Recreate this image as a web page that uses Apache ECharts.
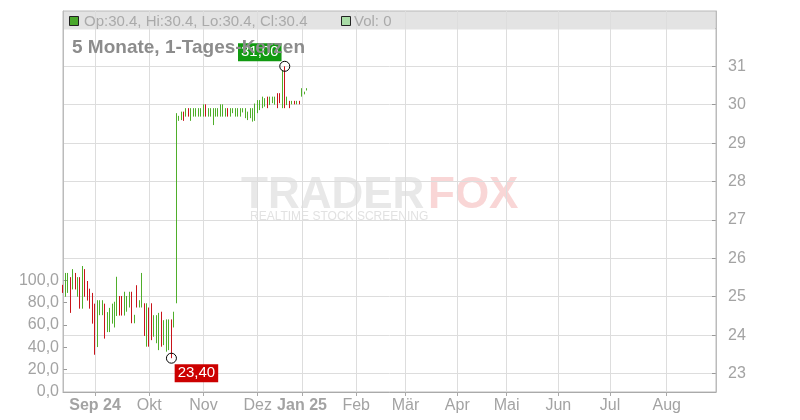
<!DOCTYPE html>
<html><head><meta charset="utf-8">
<script src="https://cdn.jsdelivr.net/npm/echarts@6.0.0/dist/echarts.min.js"></script>
<style>html,body{margin:0;padding:0;background:#fff}#c{width:800px;height:420px}</style>
</head><body><div id="c"></div>
<script>
// ---- month axis (trading-day slots per month) ----
const monthLabels = ['Aug 24','Sep 24','Okt','Nov','Dez','Jan 25','Feb','Mär','Apr','Mai','Jun','Jul','Aug'];
const monthDays   = [13,22,22,22,18,22,20,21,20,21,21,23,21];
const boldLabels  = ['Sep 24','Jan 25'];
const hiddenLabels = ['Aug 24'];

// ---- daily candles (price) ----
const opens  = [25.28,25.05,25.15,25.48,25.22,25.60,25.03,25.49,24.72,25.70,25.38,25.19,25.08,24.80,23.72,24.55,24.55,24.80,24.10,24.10,
                24.32,24.22,24.52,25.00,25.00,24.53,24.63,24.74,25.11,24.33,25.28,24.74,24.74,24.81,23.72,24.70,24.81,23.98,23.81,23.63,
                24.59,23.76,23.59,23.63,24.39,24.22,24.85,29.60,29.62,29.80,29.71,29.89,29.60,29.71,29.71,29.71,29.71,29.71,29.99,29.71,
                29.71,29.49,29.71,29.71,29.71,29.71,29.71,29.89,29.71,29.80,29.71,29.71,29.71,29.82,29.67,29.62,29.67,29.58,29.60,29.80,
                29.88,29.93,29.97,30.19,30.01,30.06,30.02,30.28,30.28,29.93,30.98,30.01,30.08,30.03,30.08,30.03,30.08,30.23,30.29,30.38];
const closes = [25.12,25.58,25.60,24.62,25.70,25.22,25.48,24.72,25.76,25.03,24.93,24.72,24.33,23.52,24.88,24.88,24.89,23.94,24.58,24.69,
                24.80,24.85,25.50,24.53,24.53,25.11,25.00,25.11,24.33,24.51,24.74,24.89,25.60,24.00,24.81,23.72,23.89,24.50,24.50,24.56,
                23.72,24.37,24.39,24.39,23.42,24.59,29.76,29.69,29.80,29.60,29.89,29.71,29.89,29.89,29.89,29.89,29.89,29.99,29.71,29.89,
                29.89,29.89,29.89,29.89,29.99,29.99,29.89,29.71,29.89,29.89,29.89,29.89,29.89,29.89,29.89,29.80,29.89,29.89,30.01,30.10,
                30.10,30.19,30.15,29.93,30.19,30.19,30.19,29.93,30.06,30.88,29.93,30.19,29.93,30.08,30.03,30.08,30.03,30.41,30.32,30.42];
const lows   = [25.10,25.00,25.10,24.58,25.19,25.19,25.00,24.69,24.69,25.00,24.90,24.69,24.30,23.49,23.69,24.52,24.52,23.91,24.08,24.08,
                24.30,24.20,24.50,24.51,24.51,24.51,24.61,24.72,24.31,24.31,24.72,24.72,24.72,23.98,23.70,23.70,23.87,23.96,23.79,23.61,
                23.70,23.74,23.57,23.61,23.40,24.20,24.83,29.58,29.60,29.58,29.69,29.69,29.58,29.69,29.69,29.69,29.69,29.69,29.69,29.69,
                29.69,29.47,29.69,29.69,29.69,29.69,29.69,29.69,29.69,29.78,29.69,29.69,29.69,29.80,29.65,29.60,29.65,29.56,29.58,29.78,
                29.86,29.91,29.95,29.91,29.99,30.04,30.00,29.91,30.04,29.91,29.91,29.99,29.91,30.01,30.01,30.01,30.01,30.21,30.27,30.37];
const highs  = [25.31,25.62,25.62,25.51,25.72,25.62,25.51,25.51,25.80,25.72,25.41,25.21,25.10,24.82,24.91,24.91,24.91,24.82,24.60,24.71,
                24.82,24.87,25.52,25.02,25.02,25.13,25.02,25.13,25.13,24.53,25.30,24.91,25.62,24.83,24.83,24.72,24.83,24.52,24.52,24.58,
                24.61,24.39,24.41,24.41,24.41,24.61,29.78,29.71,29.82,29.82,29.91,29.91,29.91,29.91,29.91,29.91,29.91,30.01,30.01,29.91,
                29.91,29.91,29.91,29.91,30.01,30.01,29.91,29.91,29.91,29.91,29.91,29.91,29.91,29.91,29.91,29.82,29.91,29.91,30.03,30.12,
                30.12,30.21,30.17,30.21,30.21,30.21,30.21,30.30,30.30,30.90,31.00,30.21,30.10,30.10,30.10,30.10,30.10,30.43,30.34,30.43];

// ---- axis tick values ----
const volTicks = [0,20,40,60,80,100];
const headerText = 'Op:30.4, Hi:30.4, Lo:30.4, Cl:30.4';
const volText = 'Vol: 0';
const titleText = '5 Monate, 1-Tages-Kerzen';

// build category axis
const cats = [];
const startLabel = {};
monthLabels.forEach((m, k) => {
  startLabel[cats.length] = m;
  for (let d = 0; d < monthDays[k]; d++) cats.push(m + '#' + (d + 1));
});
const isStart = (i) => startLabel[i] !== undefined && hiddenLabels.indexOf(startLabel[i]) < 0;

const rows = opens.map((o, i) => [o, closes[i], lows[i], highs[i]]);

const FONT = '"Liberation Sans", Arial, sans-serif';
const GREEN = '#4fae2b', RED = '#c8141a', GREY = '#a3a3a3';
const fmt2 = v => v.toFixed(2).replace('.', ',');

const chart = echarts.init(document.getElementById('c'));
chart.setOption({
  animation: false,
  textStyle: { fontFamily: FONT },
  grid: { left: 63, right: 84, top: 11, bottom: 28, show: true, borderColor: '#bbb', borderWidth: 1, backgroundColor: 'transparent' },
  xAxis: {
    type: 'category', data: cats, boundaryGap: false, z: 0,
    axisLine: { lineStyle: { color: '#aaa' } },
    axisTick: { show: true, interval: isStart, length: 4, lineStyle: { color: '#aaa' } },
    axisLabel: {
      interval: isStart, color: GREY, fontSize: 16, fontFamily: FONT, margin: 6,
      formatter: (v, i) => {
        const m = startLabel[i];
        if (m === undefined) return '';
        return boldLabels.indexOf(m) >= 0 ? '{b|' + m + '}' : m;
      },
      rich: { b: { fontWeight: 'bold', fontSize: 16, color: GREY, fontFamily: FONT } }
    },
    splitLine: { show: true, interval: isStart, lineStyle: { color: '#ddd' } }
  },
  yAxis: [
    {
      type: 'value', position: 'right', min: 22.52, max: 32.44, splitNumber: 10, z: -20,
      axisLine: { show: true, lineStyle: { color: '#bbb' } },
      axisTick: { show: true, inside: true, length: 4, lineStyle: { color: '#999' } },
      axisLabel: { color: GREY, fontSize: 16, fontFamily: FONT, margin: 12, showMinLabel: false, showMaxLabel: false,
                   formatter: v => (v >= 32 ? '' : String(v)) },
      splitLine: { show: true, lineStyle: { color: '#ddd' } }
    },
    {
      type: 'value', position: 'left', min: 0, max: 341, z: -20,
      axisLine: { show: true, lineStyle: { color: '#bbb' } },
      axisTick: { show: true, inside: true, length: 4, customValues: volTicks, lineStyle: { color: '#999' } },
      axisLabel: { customValues: volTicks, color: GREY, fontSize: 16, fontFamily: FONT, margin: 4,
                   formatter: v => v.toFixed(1).replace('.', ',') },
      splitLine: { show: false }
    }
  ],
  series: [{
    type: 'candlestick', yAxisIndex: 0, data: rows, barWidth: 1,
    itemStyle: { color: GREEN, color0: RED, borderColor: GREEN, borderColor0: RED, borderWidth: 1 },
    emphasis: { disabled: true },
    markPoint: {
      symbol: 'circle', symbolSize: 10, z: 5,
      itemStyle: { color: 'rgba(255,255,255,0)', borderColor: '#000', borderWidth: 1 },
      data: [
        { type: 'max', valueDim: 'highest',
          label: { show: true, position: 'inside', offset: [-25, -14], formatter: p => fmt2(p.value),
                   color: '#fff', backgroundColor: '#119a11', padding: [2, 3, 1, 3], fontSize: 15, fontFamily: FONT } },
        { type: 'min', valueDim: 'lowest',
          label: { show: true, position: 'inside', offset: [25, 15], formatter: p => fmt2(p.value),
                   color: '#fff', backgroundColor: '#cc0000', padding: [2, 3, 1, 3], fontSize: 15, fontFamily: FONT } }
      ]
    }
  }],
  graphic: [
    { type: 'text', z: -25, silent: true, left: 241, top: 174,
      style: { text: 'TRADER', font: 'bold 44px ' + FONT, fill: '#e8e8e8' } },
    { type: 'text', z: -25, silent: true, left: 428, top: 174,
      style: { text: 'FOX', font: 'bold 44px ' + FONT, fill: '#f9d6d6' } },
    { type: 'text', z: -25, silent: true, left: 250, top: 211,
      style: { text: 'REALTIME STOCK SCREENING', font: '12px ' + FONT, fill: '#e2e2e2' } },
    { type: 'rect', z: -10, silent: true, shape: { x: 64, y: 11.5, width: 651.5, height: 18 }, style: { fill: '#e3e3e3' } },
    { type: 'rect', z: 20, silent: true, shape: { x: 69.5, y: 16.5, width: 9, height: 9 }, style: { fill: '#4aa82c', stroke: '#222', lineWidth: 1 } },
    { type: 'text', z: 20, silent: true, x: 84, y: 21.5,
      style: { text: headerText, font: '15px ' + FONT, fill: '#aaa', verticalAlign: 'middle' } },
    { type: 'rect', z: 20, silent: true, shape: { x: 341.5, y: 16.5, width: 9, height: 9 }, style: { fill: '#a9dca6', stroke: '#222', lineWidth: 1 } },
    { type: 'text', z: 20, silent: true, x: 354, y: 21.5,
      style: { text: volText, font: '15px ' + FONT, fill: '#aaa', verticalAlign: 'middle' } },
    { type: 'text', z: 100, silent: true, x: 72, y: 47.5,
      style: { text: titleText, font: 'bold 19px ' + FONT, fill: '#8c8c8c', verticalAlign: 'middle' } }
  ]
});
</script></body></html>
